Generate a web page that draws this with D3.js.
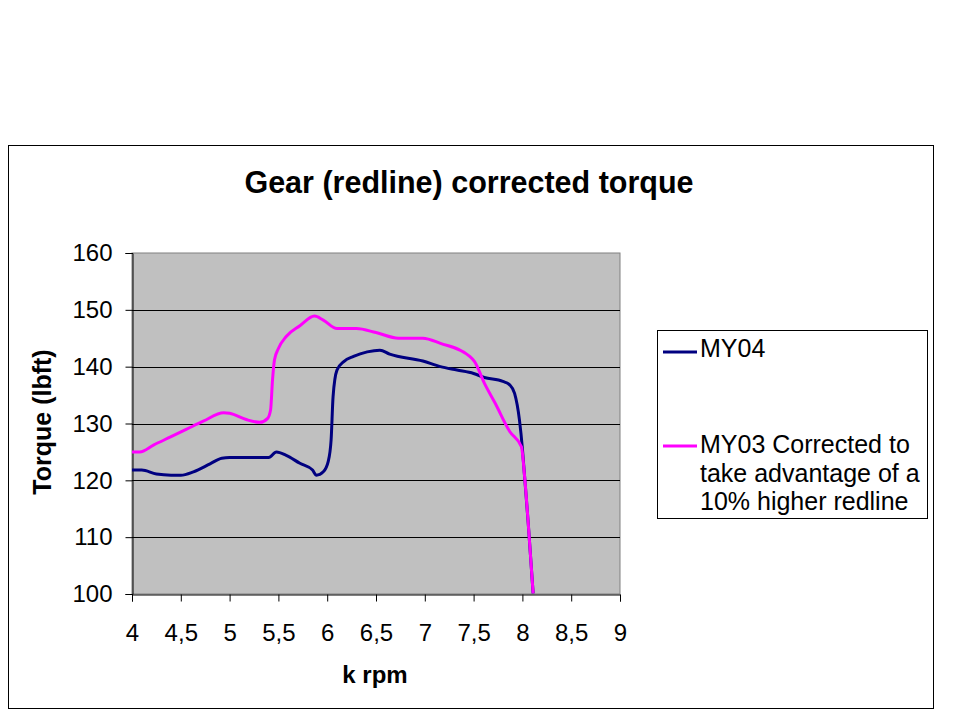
<!DOCTYPE html>
<html>
<head>
<meta charset="utf-8">
<script src="https://cdn.jsdelivr.net/npm/d3@7/dist/d3.min.js"></script>
<style>
  html, body { margin: 0; padding: 0; background: #ffffff; }
  svg { display: block; }
  text { font-family: "Liberation Sans", Arial, sans-serif; fill: #000; }
</style>
</head>
<body>
<svg id="chart" width="959" height="719"></svg>
<script>
// ---- data ----
const title = "Gear (redline) corrected torque";
const xLabel = "k rpm";
const yLabel = "Torque (lbft)";
const xTicks = [4, 4.5, 5, 5.5, 6, 6.5, 7, 7.5, 8, 8.5, 9];
const yTicks = [100, 110, 120, 130, 140, 150, 160];
const seriesNames = ["MY04", "MY03 Corrected to take advantage of a 10% higher redline"];
const legendLines = [["MY04"], ["MY03 Corrected to", "take advantage of a", "10% higher redline"]];

const my04Rpm = [4.0, 4.1, 4.25, 4.4, 4.5, 4.63, 4.8, 4.92, 5.0, 5.4, 5.48, 5.58, 5.72, 5.85, 5.89, 5.96, 6.01, 6.04, 6.06, 6.10, 6.17, 6.27, 6.41, 6.54, 6.64, 6.98, 7.16, 7.33, 7.50, 7.61, 7.80, 7.87, 7.92, 7.97, 8.0, 8.02, 8.06, 8.11];
const my04Torque = [121.8, 121.8, 121.1, 120.9, 120.9, 121.5, 122.9, 123.9, 124.0, 124.0, 125.0, 124.4, 123.0, 121.8, 120.9, 121.5, 123.3, 127.1, 134.7, 139.4, 140.9, 141.8, 142.6, 142.9, 142.2, 141.0, 140.0, 139.4, 138.8, 138.1, 137.4, 136.8, 135.3, 130.6, 125.6, 121.2, 112.4, 100.1];

const my03Rpm = [4.0, 4.08, 4.22, 4.39, 4.56, 4.73, 4.94, 5.0, 5.17, 5.31, 5.39, 5.42, 5.44, 5.46, 5.50, 5.58, 5.72, 5.87, 5.96, 6.10, 6.30, 6.50, 6.73, 6.98, 7.16, 7.46, 7.51, 7.61, 7.72, 7.87, 7.99, 8.02, 8.06, 8.11];
const my03Torque = [125.0, 125.0, 126.2, 127.6, 129.0, 130.4, 131.9, 131.8, 130.7, 130.2, 130.9, 132.4, 137.7, 141.2, 143.2, 145.3, 147.2, 148.9, 148.2, 146.7, 146.7, 146.0, 145.0, 145.0, 144.1, 141.8, 140.9, 137.1, 133.6, 128.6, 125.9, 121.2, 112.4, 100.1];

const colors = ["#000080", "#ff00ff"];

// ---- layout ----
const svg = d3.select("#chart");
const plot = { left: 132, right: 620, top: 253, bottom: 594 };

const x = d3.scaleLinear().domain([4, 9]).range([plot.left, plot.right]);
const y = d3.scaleLinear().domain([100, 160]).range([plot.bottom, plot.top]);

// outer chart border
svg.append("rect")
  .attr("x", 8.5).attr("y", 145.5)
  .attr("width", 925).attr("height", 563)
  .attr("fill", "#fff").attr("stroke", "#000").attr("stroke-width", 1);

// plot area background
svg.append("rect")
  .attr("x", plot.left).attr("y", plot.top)
  .attr("width", plot.right - plot.left).attr("height", plot.bottom - plot.top)
  .attr("fill", "#c0c0c0").attr("stroke", "#808080").attr("stroke-width", 1);

// gridlines
svg.append("g").selectAll("line")
  .data(yTicks.filter(d => d > 100 && d < 160))
  .join("line")
  .attr("x1", plot.left).attr("x2", plot.right)
  .attr("y1", d => Math.round(y(d)) + 0.5).attr("y2", d => Math.round(y(d)) + 0.5)
  .attr("stroke", "#000").attr("stroke-width", 1);

// axes
const fmt = d => String(d).replace(".", ",");
const yAxis = d3.axisLeft(y).tickValues(yTicks).tickSize(7).tickPadding(13).tickFormat(fmt);
const gy = svg.append("g").attr("transform", `translate(${plot.left + 0.5},0)`).call(yAxis);
gy.select(".domain").attr("stroke", "#000");
gy.selectAll(".tick line").attr("stroke", "#000");
gy.selectAll(".tick text").attr("font-size", 24).attr("font-family", "Liberation Sans, Arial, sans-serif").attr("fill", "#000");

const xAxis = d3.axisBottom(x).tickValues(xTicks).tickSize(7).tickPadding(22).tickFormat(fmt);
const gx = svg.append("g").attr("transform", `translate(0,${plot.bottom + 0.5})`).call(xAxis);
gx.select(".domain").attr("stroke", "#000");
gx.selectAll(".tick line").attr("stroke", "#000");
gx.selectAll(".tick text").attr("font-size", 24).attr("font-family", "Liberation Sans, Arial, sans-serif").attr("fill", "#000");

// lines
const line = d3.line().x(d => x(d[0])).y(d => y(d[1])).curve(d3.curveMonotoneX);
const series = [
  d3.zip(my04Rpm, my04Torque),
  d3.zip(my03Rpm, my03Torque)
];
svg.append("g").selectAll("path")
  .data(series)
  .join("path")
  .attr("d", line)
  .attr("fill", "none")
  .attr("stroke", (d, i) => colors[i])
  .attr("stroke-width", 3)
  .attr("stroke-linejoin", "round");

// title
svg.append("text")
  .attr("x", 469).attr("y", 193)
  .attr("text-anchor", "middle")
  .attr("font-size", 30.5).attr("font-weight", "bold")
  .text(title);

// axis labels
svg.append("text")
  .attr("x", 375).attr("y", 683)
  .attr("text-anchor", "middle")
  .attr("font-size", 24).attr("font-weight", "bold")
  .text(xLabel);

svg.append("text")
  .attr("transform", "translate(51,422) rotate(-90)")
  .attr("text-anchor", "middle")
  .attr("font-size", 25).attr("font-weight", "bold")
  .text(yLabel);

// legend
const lg = svg.append("g");
lg.append("rect")
  .attr("x", 657.5).attr("y", 330.5)
  .attr("width", 270).attr("height", 188)
  .attr("fill", "#fff").attr("stroke", "#000").attr("stroke-width", 1);

const legendY = [352, 446];
const firstBaseline = [357, 453];
legendLines.forEach((lines, i) => {
  lg.append("line")
    .attr("x1", 663).attr("x2", 697)
    .attr("y1", legendY[i]).attr("y2", legendY[i])
    .attr("stroke", colors[i]).attr("stroke-width", 3);
  const t = lg.append("text")
    .attr("x", 700).attr("y", firstBaseline[i])
    .attr("font-size", 25);
  lines.forEach((s, j) => {
    t.append("tspan").attr("x", 700).attr("dy", j === 0 ? 0 : 28.5).text(s);
  });
});
</script>
</body>
</html>
